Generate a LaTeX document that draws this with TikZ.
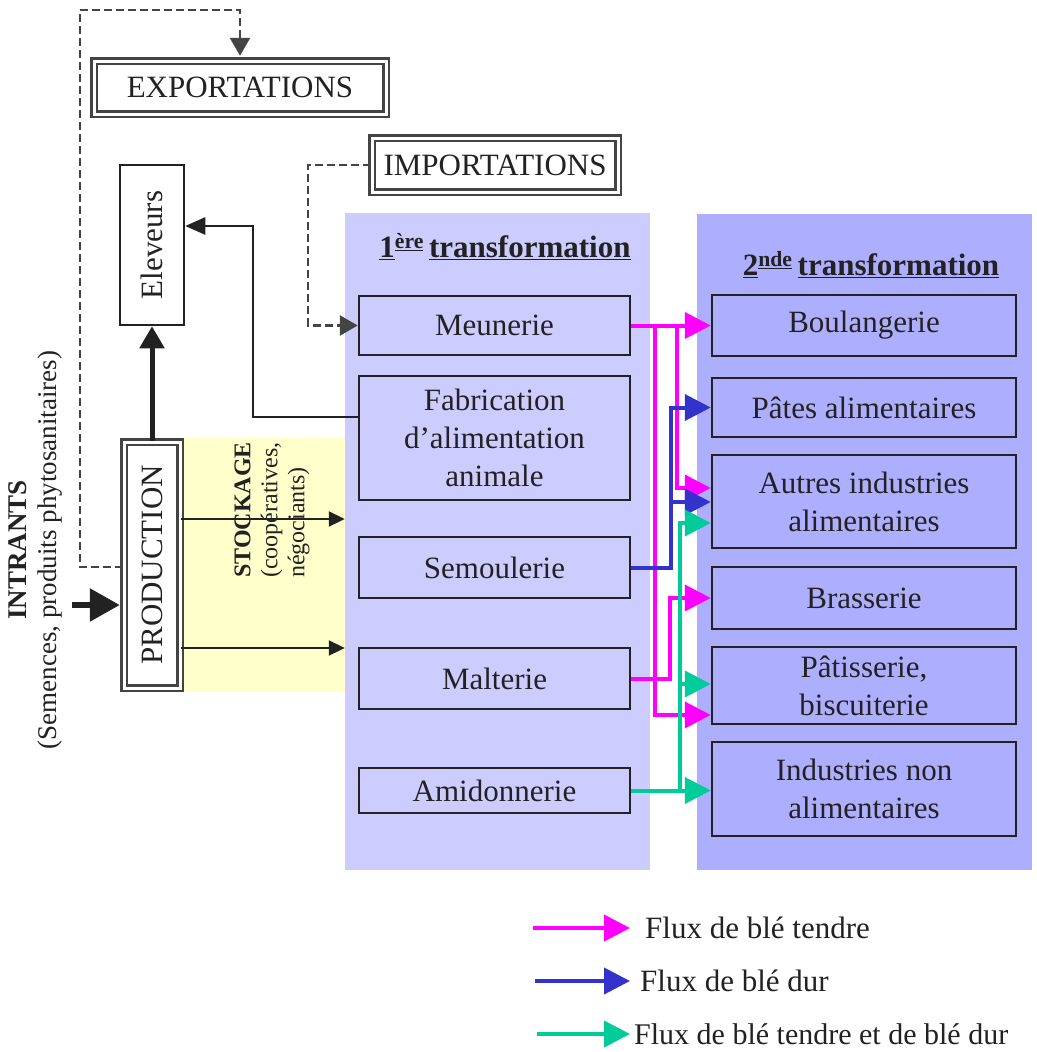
\documentclass[tikz,border=0pt]{standalone}
\usepackage{fontspec}
\usepackage{graphicx}
\setmainfont{Liberation Serif}
\usetikzlibrary{arrows.meta,calc}
\definecolor{pone}{HTML}{CCCCFF}
\definecolor{ptwo}{HTML}{AEAEFF}
\definecolor{stock}{HTML}{FFFFCC}
\definecolor{fpink}{HTML}{FF00FF}
\definecolor{fblue}{HTML}{3333CC}
\definecolor{fgreen}{HTML}{00CC99}
\definecolor{ink}{HTML}{222222}
\definecolor{dgray}{HTML}{444444}
\begin{document}
\begin{tikzpicture}[x=1pt,y=-1pt,
  txt/.style={font=\fontsize{31}{38}\selectfont, text=ink},
  box/.style={draw=ink, line width=2.5pt, inner sep=0pt, align=center, txt},
  dbox/.style={draw=dgray, double=white, line width=2.5pt, double distance=3pt, inner sep=0pt, txt},
  panel/.style={inner sep=0pt, draw=none},
  pflow/.style={draw=fpink, line width=4pt, -{Triangle[length=26pt,width=26pt]}},
  bflow/.style={draw=fblue, line width=4pt, -{Triangle[length=26pt,width=26pt]}},
  gflow/.style={draw=fgreen, line width=4pt, -{Triangle[length=26pt,width=26pt]}},
  sarrow/.style={draw=ink, line width=2pt, -{Triangle[length=16pt,width=15pt]}},
  farrow/.style={draw=ink, line width=2.5pt, -{Triangle[length=20pt,width=17pt]}},
  tarrow/.style={draw=ink, line width=5pt, -{Triangle[length=22pt,width=24pt]}},
  iarrow/.style={draw=ink, line width=6pt, -{Triangle[length=30pt,width=32pt]}},
  dline/.style={draw=dgray, line width=2.5pt, dash pattern=on 8pt off 4pt, -{Triangle[length=18pt,width=20pt]}}
]
\useasboundingbox (0,0) rectangle (1036,1052);
\fill[white] (0,0) rectangle (1036,1052);

% background panels
\node[panel, fill=pone, minimum width=305pt, minimum height=657pt] (p1) at (497.5,541.5) {};
\node[panel, fill=ptwo, minimum width=335pt, minimum height=656pt] (p2) at (864.5,542) {};
\node[panel, fill=stock, minimum width=162pt, minimum height=254pt] (stk) at (264,565) {};

% headers
\node[txt, font=\fontsize{31}{38}\selectfont\bfseries] (h1) at (505,247)
  {\underline{1}\textsuperscript{\underline{ère}}\,\underline{transformation}};
\node[txt, font=\fontsize{31}{38}\selectfont\bfseries] (h2) at (871,265)
  {\underline{2}\textsuperscript{\underline{nde}}\,\underline{transformation}};

% first transformation boxes
\node[box, fill=pone, minimum width=271pt, minimum height=59pt] (meun) at (494.5,325.5) {Meunerie};
\node[box, fill=pone, minimum width=271pt, minimum height=124pt] (fab) at (494.5,438) {Fabrication\\d'alimentation\\animale};
\node[box, fill=pone, minimum width=271pt, minimum height=61pt] (semo) at (494.5,567.5) {Semoulerie};
\node[box, fill=pone, minimum width=271pt, minimum height=61pt] (malt) at (494.5,678.5) {Malterie};
\node[box, fill=pone, minimum width=271pt, minimum height=45pt] (amid) at (494.5,790.5) {Amidonnerie};

% second transformation boxes
\node[box, fill=ptwo, minimum width=304pt, minimum height=61pt] (boul) at (864,325.5) {Boulangerie};
\node[box, fill=ptwo, minimum width=304pt, minimum height=59pt] (pates) at (864,407.5) {Pâtes alimentaires};
\node[box, fill=ptwo, minimum width=304pt, minimum height=93pt] (autres) at (864,501.5) {Autres industries\\alimentaires};
\node[box, fill=ptwo, minimum width=304pt, minimum height=62pt] (bras) at (864,598) {Brasserie};
\node[box, fill=ptwo, minimum width=304pt, minimum height=77pt] (patis) at (864,685.5) {Pâtisserie,\\biscuiterie};
\node[box, fill=ptwo, minimum width=304pt, minimum height=94pt] (indnon) at (864,789) {Industries non\\alimentaires};

% left part
\node[dbox, minimum width=292pt, minimum height=53pt] (expo) at (240,87.5) {EXPORTATIONS};
\node[dbox, minimum width=246pt, minimum height=54pt] (impo) at (495,165) {IMPORTATIONS};
\node[box, fill=white, minimum width=64pt, minimum height=160pt] (elev) at (152,245) {\rotatebox{90}{Eleveurs}};
\node[dbox, fill=white, minimum width=56pt, minimum height=246pt] (prod) at (152,565) {\rotatebox{90}{PRODUCTION}};

\node[txt, rotate=90, align=center, font=\fontsize{27}{30}\selectfont] (intr) at (35,550)
  {\textbf{INTRANTS}\\(Semences, produits phytosanitaires)};
\node[txt, rotate=90, anchor=west, align=left, inner sep=0pt, font=\fontsize{24}{27}\selectfont] (stext) at (272,578)
  {\textbf{STOCKAGE}\\(coopératives,\\négociants)};

% black connectors
\coordinate (s1) at (0,519);
\coordinate (s2) at (0,648);
\draw[sarrow] (prod.east |- s1) -- (p1.west |- s1);
\draw[sarrow] (prod.east |- s2) -- (p1.west |- s2);
\coordinate (f1) at (253,417);
\coordinate (f2) at (253,226);
\draw[farrow] (fab.west |- f1) -- (f1) -- (f2) -- (f2 -| elev.east);
\draw[tarrow] (prod.north) -- (elev.south);
\coordinate (i1) at (72,605);
\draw[iarrow, shorten >=3pt] (i1) -- (i1 -| prod.west);
\coordinate (e1) at (80,567);
\coordinate (e2) at (80,10);
\draw[dline, shorten >=4pt] (prod.west |- e1) -- (e1) -- (e2) -| (expo.north);
\coordinate (m1) at (308,165);
\draw[dline] (impo.west) -- (m1) |- (meun.west);

% flows
\coordinate (k1) at (655,715);
\coordinate (k2) at (677,488);
\coordinate (k3) at (670,598);
\coordinate (k4) at (671,407.5);
\coordinate (k5) at (671,502);
\coordinate (k6) at (680,523);
\coordinate (k7) at (680,684);
\draw[pflow] (meun.east) -| (k1) -- (k1 -| patis.west);
\draw[pflow] (meun.east) -| (k2) -- (k2 -| autres.west);
\draw[pflow] (meun.east) -- (meun.east -| boul.west);
\draw[bflow] (semo.east) -| (k4) -- (k4 -| pates.west);
\draw[bflow] (semo.east) -| (k5) -- (k5 -| autres.west);
\draw[pflow] (malt.east) -| (k3) -- (k3 -| bras.west);
\draw[gflow] (amid.east) -| (k6) -- (k6 -| autres.west);
\draw[gflow] (k7) -- (k7 -| patis.west);
\draw[gflow] (amid.east) -- (amid.east -| indnon.west);

% legend
\node[txt, anchor=west, inner sep=0pt] (lg1) at (645,928) {Flux de blé tendre};
\node[txt, anchor=west, inner sep=0pt] (lg2) at (640,981) {Flux de blé dur};
\node[txt, anchor=west, inner sep=1pt, font=\fontsize{30}{36}\selectfont] (lg3) at (633,1034) {Flux de blé tendre et de blé dur};
\coordinate (lg1s) at (533,928);
\coordinate (lg2s) at (535,981);
\coordinate (lg3s) at (537,1034);
\draw[pflow] (lg1s) -- ([xshift=-15pt]lg1.west);
\draw[bflow] (lg2s) -- ([xshift=-10pt]lg2.west);
\draw[gflow] (lg3s) -- ([xshift=-3pt]lg3.west);
\end{tikzpicture}
\end{document}
